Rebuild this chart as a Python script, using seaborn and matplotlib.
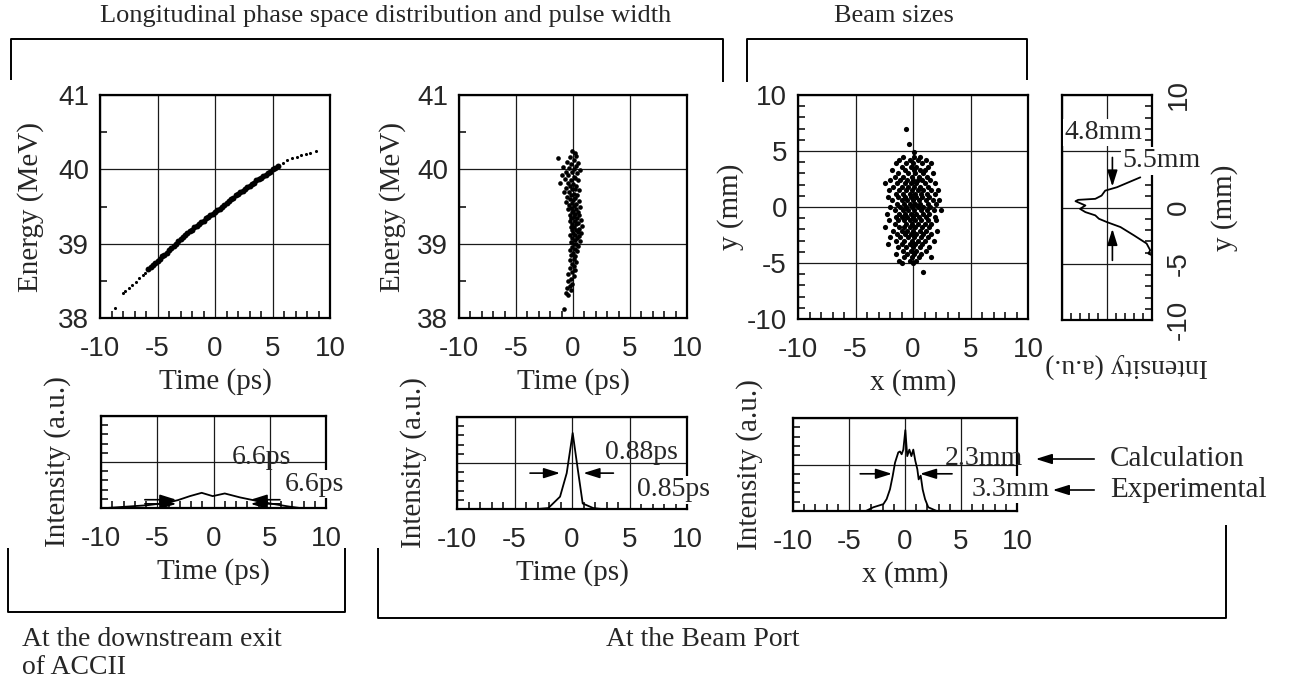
import pandas as pd
import seaborn as sns
import matplotlib.pyplot as plt
from matplotlib.ticker import MultipleLocator, FixedFormatter, FixedLocator
from matplotlib.patches import FancyArrowPatch

sns.set_style("ticks")
plt.rcParams['font.family'] = ['Liberation Sans', 'DejaVu Sans']
plt.rcParams['axes.unicode_minus'] = False
SERIF = ['Liberation Serif', 'DejaVu Serif']

W, H = 1291, 685

# --- longitudinal phase space at the exit of ACCII (time ps, energy MeV)
exit_core_t = [-5.8, -5.6, -5.4, -5.2, -5.0, -4.8, -4.6, -4.4, -4.2, -4.0, -3.8, -3.6,
               -3.4, -3.2, -3.0, -2.8, -2.6, -2.4, -2.2, -2.0, -1.8, -1.6, -1.4, -1.2,
               -1.0, -0.8, -0.6, -0.4, -0.2, 0.0, 0.2, 0.4, 0.6, 0.8, 1.0, 1.2, 1.4, 1.6,
               1.8, 2.0, 2.2, 2.4, 2.6, 2.8, 3.0, 3.2, 3.4, 3.6, 3.8, 4.0, 4.2, 4.4, 4.6,
               4.8, 5.0, 5.2, 5.5]
exit_core_e = [38.66, 38.69, 38.71, 38.74, 38.77, 38.80, 38.83, 38.85, 38.88, 38.91, 38.94,
               38.97, 39.00, 39.03, 39.06, 39.09, 39.12, 39.14, 39.17, 39.19, 39.22, 39.24,
               39.27, 39.29, 39.31, 39.34, 39.36, 39.38, 39.40, 39.42, 39.45, 39.47, 39.50,
               39.52, 39.55, 39.57, 39.60, 39.62, 39.65, 39.67, 39.69, 39.71, 39.74, 39.76,
               39.78, 39.80, 39.82, 39.85, 39.87, 39.89, 39.91, 39.93, 39.95, 39.97, 40.00,
               40.02, 40.05]
exit_tail_t = [-8.7, -8.0, -7.8, -7.5, -7.2, -6.9, -6.6, -6.3, -6.1,
               5.9, 6.3, 6.7, 7.1, 7.5, 7.9, 8.3, 8.8]
exit_tail_e = [38.13, 38.33, 38.36, 38.41, 38.45, 38.49, 38.54, 38.58, 38.61,
               40.09, 40.12, 40.15, 40.17, 40.19, 40.21, 40.22, 40.24]

# --- longitudinal phase space at the beam port (time ps, energy MeV)
port_phase = [
    (-0.05, 40.24), (0.15, 40.22), (0.3, 40.18), (-0.25, 40.16), (-1.3, 40.15),
    (0.05, 40.12), (-0.55, 40.1), (0.45, 40.08), (-0.15, 40.07), (0.25, 40.05),
    (-0.85, 40.03), (-0.35, 40.02), (0.1, 40.0), (0.6, 39.99), (-0.6, 39.97),
    (-0.1, 39.96), (0.35, 39.95), (-1.0, 39.93), (-0.4, 39.92), (0.05, 39.9),
    (0.2, 39.88), (-0.7, 39.87), (-0.2, 39.86), (0.45, 39.85), (-1.1, 39.82),
    (-0.45, 39.81), (0.0, 39.8), (-0.25, 39.78), (0.3, 39.77), (-0.6, 39.75),
    (-0.05, 39.74), (0.15, 39.73), (0.55, 39.72), (-0.8, 39.7), (-0.35, 39.69),
    (0.05, 39.67), (-0.15, 39.66), (0.35, 39.65), (-0.5, 39.63), (0.2, 39.62),
    (-0.25, 39.6), (0.0, 39.59), (0.5, 39.58), (-0.65, 39.56), (-0.1, 39.55),
    (0.3, 39.54), (-0.35, 39.52), (0.1, 39.51), (0.6, 39.5), (-0.2, 39.48),
    (0.25, 39.47), (-0.45, 39.46), (0.0, 39.44), (0.4, 39.43), (-0.1, 39.42),
    (0.2, 39.4), (-0.3, 39.39), (0.55, 39.38), (0.05, 39.36), (-0.15, 39.35),
    (0.35, 39.34), (0.7, 39.32), (-0.25, 39.31), (0.15, 39.3), (0.45, 39.28),
    (-0.05, 39.27), (0.3, 39.26), (0.8, 39.24), (-0.2, 39.23), (0.1, 39.22),
    (0.55, 39.2), (0.25, 39.19), (-0.1, 39.18), (0.4, 39.16), (0.7, 39.15),
    (0.0, 39.14), (-0.3, 39.12), (0.2, 39.11), (0.5, 39.1), (0.35, 39.08),
    (-0.05, 39.07), (0.15, 39.05), (0.6, 39.04), (-0.2, 39.02), (0.3, 39.0),
    (0.05, 38.99), (0.45, 38.97), (-0.1, 38.95), (0.2, 38.93), (-0.3, 38.91),
    (0.35, 38.9), (0.0, 38.88), (-0.15, 38.85), (0.2, 38.83), (0.05, 38.8),
    (-0.25, 38.78), (0.3, 38.76), (-0.05, 38.73), (0.1, 38.7), (-0.3, 38.67),
    (0.15, 38.65), (-0.1, 38.62), (-0.4, 38.59), (0.05, 38.56), (-0.2, 38.53),
    (-0.45, 38.5), (-0.1, 38.46), (-0.3, 38.43), (-0.5, 38.4), (-0.2, 38.37),
    (-0.6, 38.33), (-0.4, 38.31), (-0.8, 38.12),
]

# --- transverse beam spot at the beam port: rows of (y mm, [x mm, ...])
beam_rows = [
    (7.0, [-0.6]), (5.6, [-0.35]), (4.9, [0.05]),
    (4.5, [-0.9, 0.1, 0.6]),
    (4.2, [-1.2, -0.3, 0.4, 1.1]),
    (3.9, [-1.5, -0.6, 0.0, 0.8, 1.6]),
    (3.6, [-1.0, -0.2, 0.3, 1.3]),
    (3.3, [-1.8, -0.7, 0.1, 0.6, 1.0]),
    (3.0, [-1.3, -0.4, 0.2, 0.9, 1.7]),
    (2.7, [-1.6, -0.9, -0.1, 0.5, 1.2]),
    (2.4, [-2.0, -1.1, -0.5, 0.0, 0.4, 0.8, 1.5]),
    (2.1, [-2.4, -1.4, -0.7, -0.2, 0.3, 1.0, 1.9]),
    (1.8, [-1.7, -1.0, -0.4, 0.1, 0.6, 1.3]),
    (1.5, [-2.1, -1.2, -0.6, -0.1, 0.4, 0.9, 1.6, 2.2]),
    (1.2, [-1.5, -0.9, -0.3, 0.2, 0.7, 1.2, 1.9]),
    (0.9, [-2.2, -1.3, -0.7, -0.2, 0.3, 0.8, 1.4]),
    (0.6, [-1.8, -1.0, -0.5, 0.0, 0.5, 1.1, 1.7, 2.3]),
    (0.3, [-1.4, -0.8, -0.3, 0.2, 0.6, 1.3, 2.0]),
    (0.0, [-2.0, -1.1, -0.6, -0.1, 0.4, 0.9, 1.5]),
    (-0.3, [-1.6, -0.9, -0.4, 0.1, 0.7, 1.2, 1.8, 2.4]),
    (-0.6, [-2.3, -1.2, -0.7, -0.2, 0.3, 0.9, 1.4]),
    (-0.9, [-1.5, -1.0, -0.5, 0.0, 0.5, 1.1, 1.9]),
    (-1.2, [-2.1, -1.3, -0.8, -0.3, 0.2, 0.7, 1.3, 2.0]),
    (-1.5, [-1.6, -0.6, -0.1, 0.4, 1.0, 1.6]),
    (-1.8, [-2.4, -1.2, -0.8, -0.3, 0.2, 0.8, 1.4]),
    (-2.1, [-1.7, -1.0, -0.5, 0.0, 0.6, 1.1, 2.1]),
    (-2.4, [-1.4, -0.7, -0.2, 0.3, 0.9, 1.6]),
    (-2.7, [-2.0, -1.1, -0.4, 0.1, 0.7, 1.3]),
    (-3.0, [-1.5, -0.8, -0.1, 0.4, 1.0, 1.8]),
    (-3.3, [-2.2, -1.0, -0.3, 0.2, 0.8]),
    (-3.6, [-1.3, -0.6, 0.0, 0.6, 1.4]),
    (-3.9, [-0.9, -0.2, 0.3, 1.1]),
    (-4.2, [-1.5, -0.5, 0.1, 0.7]),
    (-4.5, [-0.8, -0.1, 0.5, 1.6]),
    (-4.8, [-1.2, -0.3, 0.3]),
    (-5.0, [-0.95, 0.0]),
    (-5.8, [0.9]),
]

# --- vertical beam profile (y mm, intensity a.u.)
yprof_y = [2.68, 1.8, 1.5, 1.06, 0.77, 0.68, 0.56, 0.18, -0.12, -0.41, -0.7, -1.0,
           -1.3, -1.74, -2.48, -3.2, -3.8, -4.1, -4.25]
yprof_i = [0.13, 0.39, 0.52, 0.56, 0.63, 0.82, 0.85, 0.74, 0.8, 0.74, 0.63, 0.59,
           0.5, 0.35, 0.2, 0.06, 0.02, 0.04, 0.0]
yprof_ticks = [-10, -5, 0, 5, 10]
yprof_ticklabels = ['-10', '-5', '0', '', '10']   # the "5" sits under the 5.5mm note

# --- bunch current profiles (time ps / x mm, intensity a.u.)
exit_prof_t = [-9.5, -8.3, -5.9, -4.1, -3.15, -2.1, -1.05, -0.07, 1.0, 2.36, 3.5, 5.0, 6.8, 7.7]
exit_prof_i = [0.0, 0.01, 0.03, 0.057, 0.086, 0.129, 0.165, 0.129, 0.158, 0.115, 0.086,
               0.05, 0.014, 0.0]
port_prof_t = [-3.0, -2.06, -1.04, -0.46, 0.06, 0.55, 0.93, 1.85, 2.6]
port_prof_i = [0.0, 0.01, 0.134, 0.39, 0.826, 0.39, 0.06, 0.01, 0.0]
xprof_x = [-3.5, -2.83, -1.93, -1.64, -1.34, -1.1, -0.89, -0.6, -0.45, -0.3, -0.15, 0.03,
           0.2, 0.39, 0.57, 0.74, 0.92, 1.1, 1.22, 1.4, 1.58, 1.79, 2.08, 2.83]
xprof_i = [0.0, 0.04, 0.074, 0.128, 0.234, 0.376, 0.52, 0.63, 0.64, 0.61, 0.66, 0.87,
           0.59, 0.66, 0.59, 0.66, 0.54, 0.45, 0.34, 0.38, 0.23, 0.128, 0.04, 0.0]

exit_df = pd.DataFrame({'t': exit_core_t, 'E': exit_core_e})
exit_tail_df = pd.DataFrame({'t': exit_tail_t, 'E': exit_tail_e})
port_df = pd.DataFrame(port_phase, columns=['t', 'E'])
beam_df = pd.DataFrame([(x, y) for y, xs in beam_rows for x in xs], columns=['x', 'y'])

fig = plt.figure(figsize=(W / 100, H / 100), dpi=100)

# overlay in pixel units for the brackets and group captions
ov = fig.add_axes([0, 0, 1, 1], zorder=-1)
ov.set_xlim(0, W)
ov.set_ylim(H, 0)
ov.axis('off')


def box(x0, y0, x1, y1):
    return fig.add_axes([x0 / W, 1 - y1 / H, (x1 - x0) / W, (y1 - y0) / H])


def frame(ax, xlim, ylim, xmaj, ymaj, xmin, ymin):
    ax.set_xlim(*xlim)
    ax.set_ylim(*ylim)
    ax.xaxis.set_major_locator(MultipleLocator(xmaj))
    ax.yaxis.set_major_locator(MultipleLocator(ymaj))
    ax.xaxis.set_minor_locator(MultipleLocator(xmin))
    ax.yaxis.set_minor_locator(MultipleLocator(ymin))
    ax.grid(True, which='major', color='#1a1a1a', lw=0.9)
    ax.tick_params(which='major', length=0, labelsize=20)
    ax.tick_params(axis='x', which='major', pad=13)
    ax.tick_params(axis='y', which='major', pad=8)
    ax.tick_params(which='minor', direction='in', length=5, width=1.1, color='k',
                   top=False, right=False)
    for s in ax.spines.values():
        s.set_linewidth(1.6)
        s.set_color('k')


def arrow(ax, tail, tip):
    ax.annotate('', xy=tip, xytext=tail,
                arrowprops=dict(arrowstyle='-|>,head_length=0.7,head_width=0.22',
                                mutation_scale=14, lw=1.2, color='k',
                                shrinkA=0, shrinkB=0))


def note(ax, x, y, s, white=False):
    kw = dict(fontsize=20, family=SERIF, ha='left', va='center', clip_on=False, zorder=5)
    if white:
        kw['bbox'] = dict(fc='white', ec='none', pad=1)
    ax.text(x, y, s, **kw)


lab = dict(fontsize=21, family=SERIF)

# ---- top row: phase space
ax1 = box(100, 95, 330, 318)
sns.scatterplot(data=exit_df, x='t', y='E', ax=ax1, color='k', s=18, linewidth=0, legend=False)
sns.scatterplot(data=exit_tail_df, x='t', y='E', ax=ax1, color='k', s=5, linewidth=0, legend=False)
frame(ax1, (-10, 10), (38, 41), 5, 1, 1, 0.5)
ax1.set_xlabel('Time (ps)', labelpad=4, **lab)
ax1.set_ylabel('Energy (MeV)', labelpad=10, **lab)

ax2 = box(459, 95, 687, 318)
sns.scatterplot(data=port_df, x='t', y='E', ax=ax2, color='k', s=11, linewidth=0, legend=False)
frame(ax2, (-10, 10), (38, 41), 5, 1, 1, 0.5)
ax2.set_xlabel('Time (ps)', labelpad=4, **lab)
ax2.set_ylabel('Energy (MeV)', labelpad=8, **lab)

ax3 = box(798, 95, 1028, 319)
sns.scatterplot(data=beam_df, x='x', y='y', ax=ax3, color='k', s=14, linewidth=0, legend=False)
frame(ax3, (-10, 10), (-10, 10), 5, 5, 1, 1)
ax3.set_xlabel('x (mm)', labelpad=4, **lab)
ax3.set_ylabel('y (mm)', labelpad=2, **lab)

# vertical profile drawn sideways
ax4 = box(1062, 95, 1152, 320)
sns.lineplot(x=yprof_i, y=yprof_y, ax=ax4, color='k', lw=1.3, sort=False, estimator=None)
frame(ax4, (1, 0), (-10, 10), 0.5, 5, 0.1, 1)
ax4.yaxis.set_major_locator(FixedLocator(yprof_ticks))
ax4.yaxis.set_major_formatter(FixedFormatter(yprof_ticklabels))
ax4.yaxis.tick_right()
ax4.yaxis.set_label_position('right')
ax4.tick_params(axis='x', labelbottom=False)
ax4.tick_params(axis='y', which='major', pad=10, labelrotation=90)
ax4.tick_params(axis='y', which='minor', left=False, right=True)
for t in ax4.get_yticklabels():
    t.set_va('center')
ax4.set_ylabel('y (mm)', rotation=90, labelpad=14, **lab)
ax4.set_xlabel('Intensity (a.u.)', rotation=180, fontsize=20, family=SERIF)
ax4.xaxis.set_label_coords(0.72, -0.145)
arrow(ax4, (0.44, 4.45), (0.44, 1.86))
arrow(ax4, (0.44, -4.7), (0.44, -1.9))
ax4.text(0.535, 6.66, '4.8mm', fontsize=20, family=SERIF, ha='center', va='center',
         bbox=dict(fc='white', ec='none', pad=1), zorder=5)
note(ax4, 0.33, 4.16, '5.5mm', white=True)

# ---- bottom row: intensity profiles
bx1 = box(101, 416, 326, 508)
sns.lineplot(x=exit_prof_t, y=exit_prof_i, ax=bx1, color='k', lw=1.3, sort=False, estimator=None)
frame(bx1, (-10, 10), (0, 1), 5, 0.5, 1, 0.1)
bx1.tick_params(axis='y', labelleft=False)
bx1.set_xlabel('Time (ps)', labelpad=4, **lab)
bx1.set_ylabel('Intensity (a.u.)', labelpad=18, **lab)
arrow(bx1, (-6.1, 0.09), (-3.3, 0.09))
arrow(bx1, (-6.1, 0.045), (-3.3, 0.045))
arrow(bx1, (5.9, 0.09), (3.3, 0.09))
arrow(bx1, (5.9, 0.045), (3.3, 0.045))
note(bx1, 1.64, 0.55, '6.6ps')
note(bx1, 6.36, 0.26, '6.6ps', white=True)

bx2 = box(457, 417, 687, 509)
sns.lineplot(x=port_prof_t, y=port_prof_i, ax=bx2, color='k', lw=1.3, sort=False, estimator=None)
frame(bx2, (-10, 10), (0, 1), 5, 0.5, 1, 0.1)
bx2.tick_params(axis='y', labelleft=False)
bx2.set_xlabel('Time (ps)', labelpad=4, **lab)
bx2.set_ylabel('Intensity (a.u.)', labelpad=18, **lab)
arrow(bx2, (-3.65, 0.39), (-1.04, 0.39))
arrow(bx2, (3.6, 0.39), (0.99, 0.39))
note(bx2, 2.87, 0.61, '0.88ps')
note(bx2, 5.65, 0.21, '0.85ps', white=True)

bx3 = box(793, 418, 1017, 511)
sns.lineplot(x=xprof_x, y=xprof_i, ax=bx3, color='k', lw=1.3, sort=False, estimator=None)
frame(bx3, (-10, 10), (0, 1), 5, 0.5, 1, 0.1)
bx3.tick_params(axis='y', labelleft=False)
bx3.set_xlabel('x (mm)', labelpad=4, **lab)
bx3.set_ylabel('Intensity (a.u.)', labelpad=18, **lab)
arrow(bx3, (-4.0, 0.40), (-1.16, 0.40))
arrow(bx3, (4.2, 0.40), (1.34, 0.40))
note(bx3, 3.57, 0.56, '2.3mm')
note(bx3, 5.98, 0.23, '3.3mm', white=True)

# ---- captions, brackets and legend arrows (pixel overlay)
cap = dict(fontsize=19, family=SERIF, ha='center', va='center')
ov.text(386, 16, 'Longitudinal phase space distribution and pulse width', **cap)
ov.text(894, 16, 'Beam sizes', **cap)
bk = dict(color='k', lw=1.4, solid_capstyle='butt')
ov.plot([11, 11, 723, 723], [80, 39, 39, 82], **bk)
ov.plot([747, 747, 1027, 1027], [82, 39, 39, 80], **bk)
ov.plot([8, 8, 345, 345], [548, 612, 612, 548], **bk)
ov.plot([378, 378, 1226, 1226], [548, 618, 618, 525], **bk)

ov.text(22, 640, 'At the downstream exit', fontsize=20, family=SERIF, ha='left', va='center')
ov.text(22, 667, 'of ACCII', fontsize=20, family=SERIF, ha='left', va='center')
ov.text(703, 640, 'At the Beam Port', fontsize=20, family=SERIF, ha='center', va='center')

for y0, x_tip, label in [(459, 1033, 'Calculation'), (490, 1050, 'Experimental')]:
    ov.add_patch(FancyArrowPatch((1097, y0), (x_tip, y0),
                                 arrowstyle='-|>,head_length=0.7,head_width=0.22',
                                 mutation_scale=14, lw=1.2, color='k'))
    ov.text(1110, y0, label, fontsize=21, family=SERIF, ha='left', va='center')

fig.savefig('out.png', dpi=100, facecolor='white')
